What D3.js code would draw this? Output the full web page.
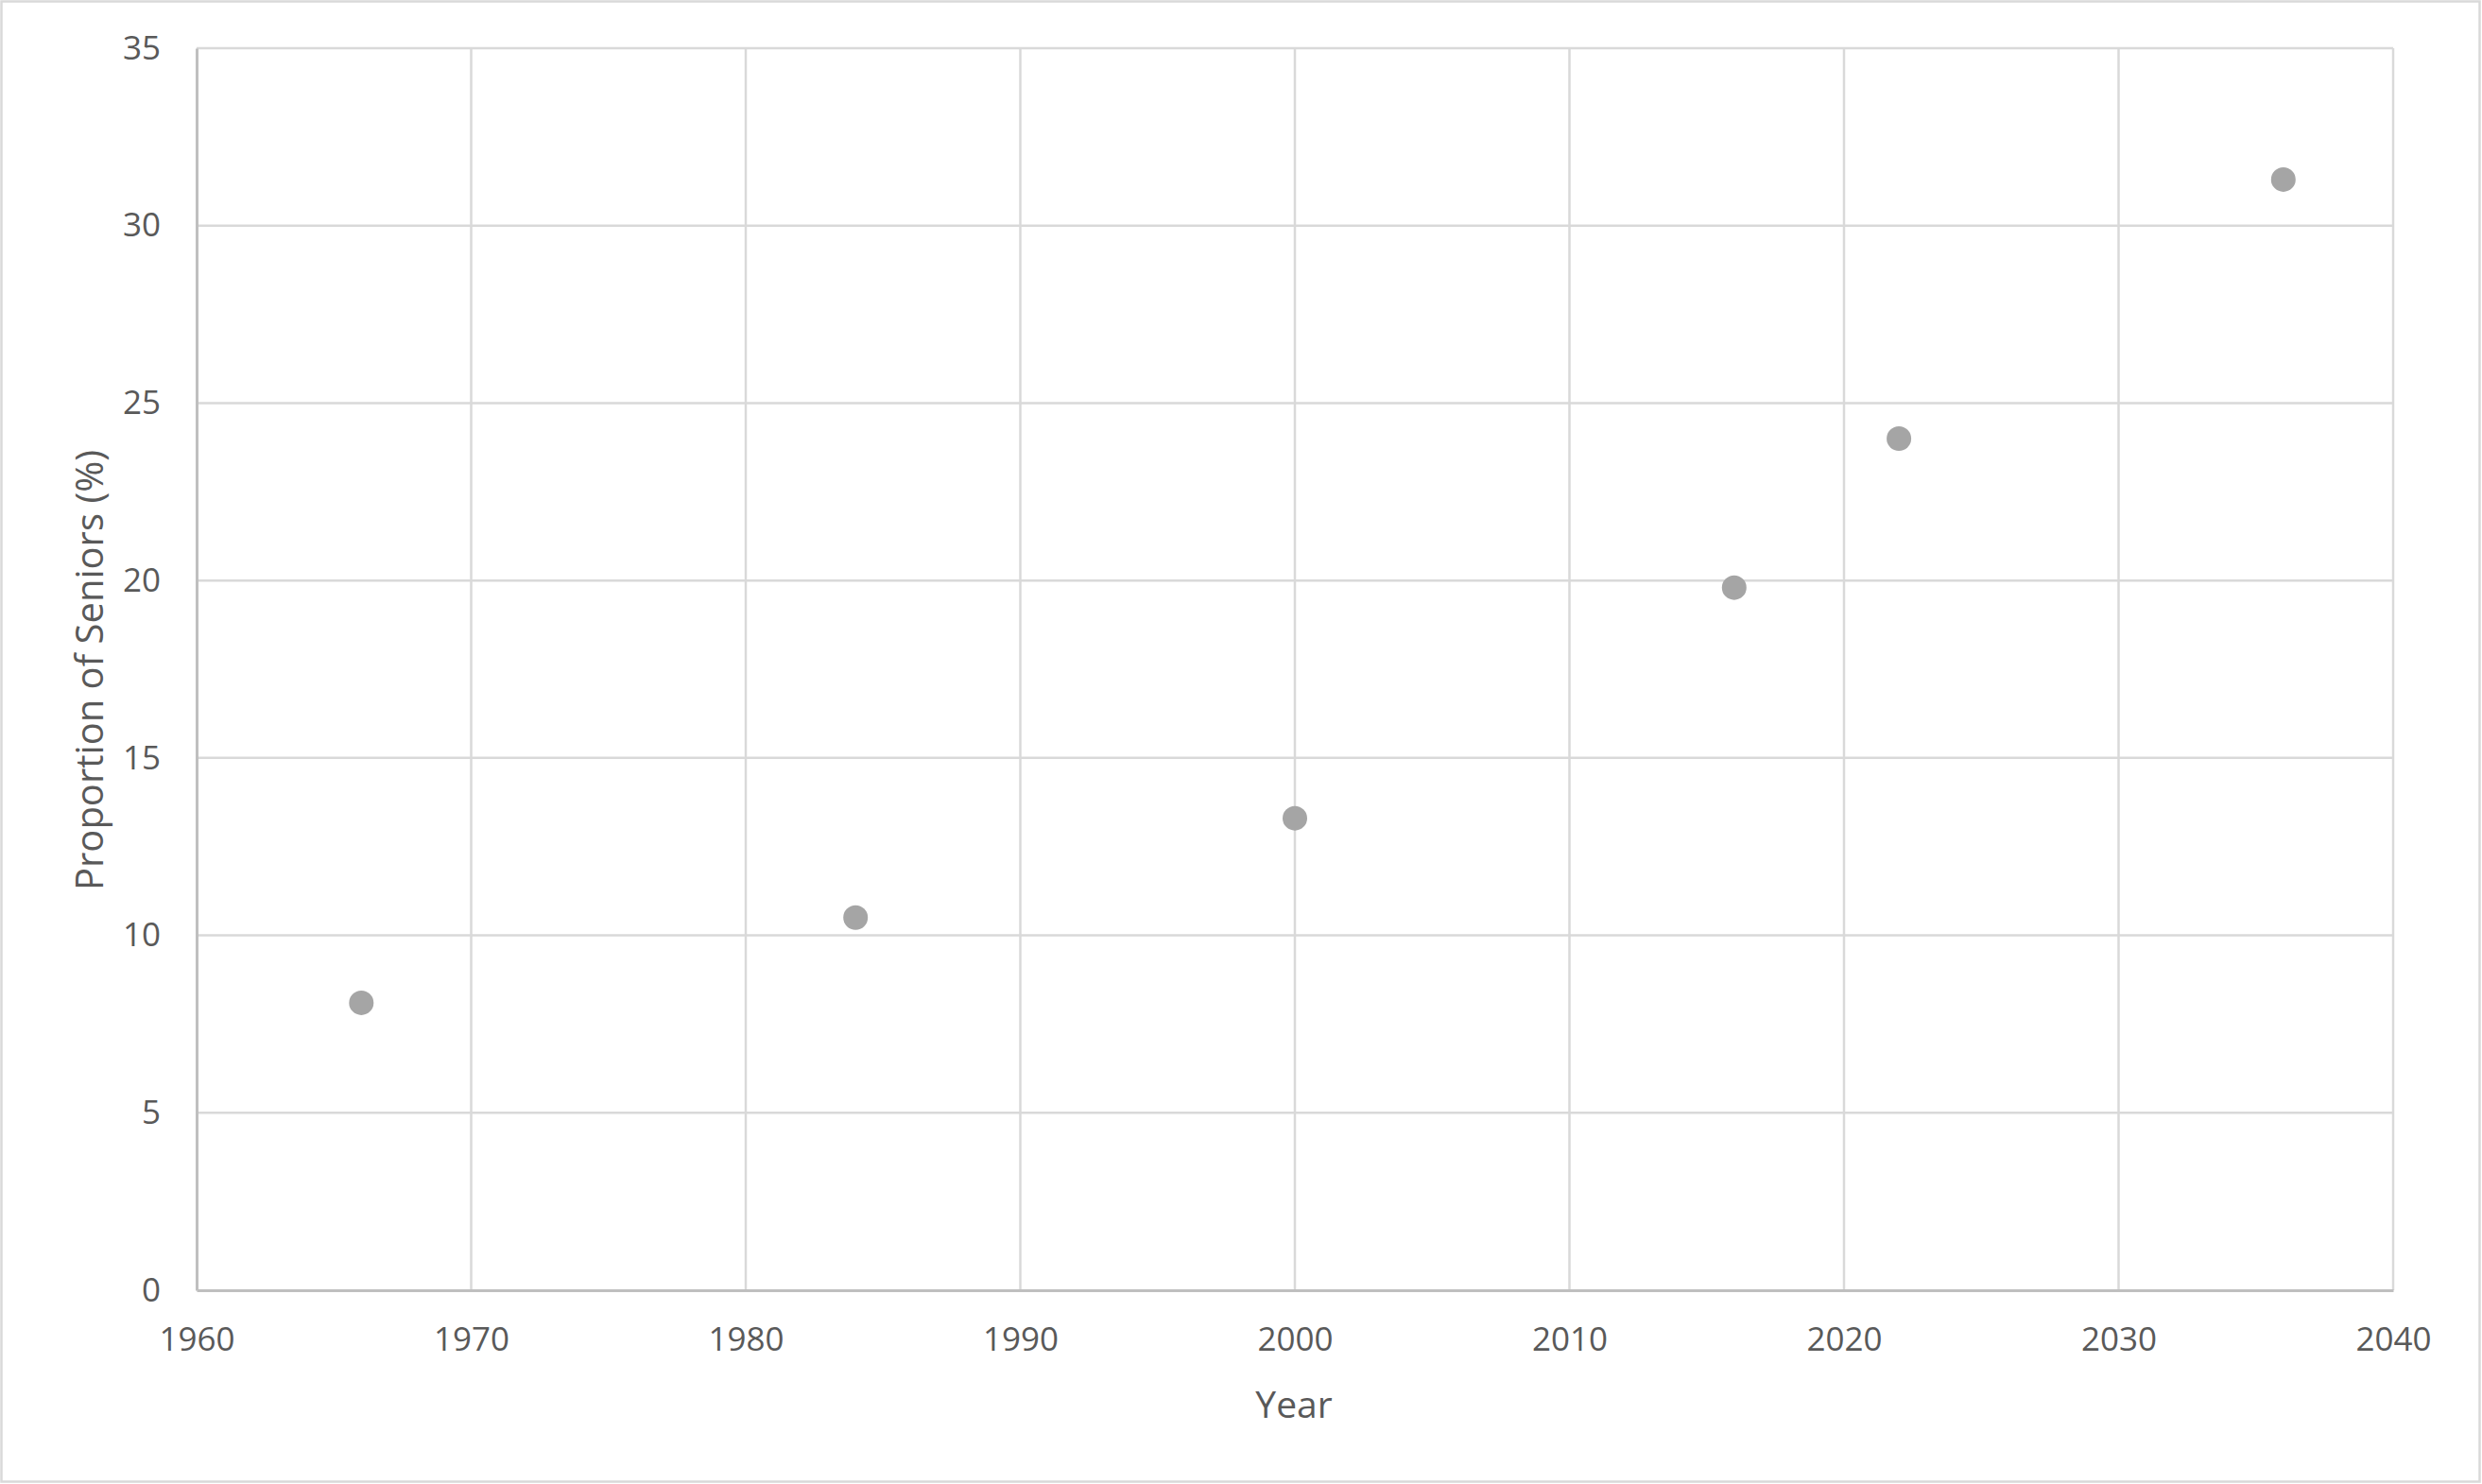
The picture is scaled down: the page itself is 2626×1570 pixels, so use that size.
<!DOCTYPE html>
<html>
<head>
<meta charset="utf-8">
<script src="https://cdn.jsdelivr.net/npm/d3@7"></script>
<style>
  html, body { margin: 0; padding: 0; background: #fff; }
  svg { display: block; }
  text { font-family: "Open Sans", "Noto Sans", sans-serif; fill: #595959; }
</style>
</head>
<body>
<svg id="chart" width="2626" height="1570"></svg>
<script>
const years = [1966, 1984, 2000, 2016, 2022, 2036];
const seniorShare = [8.1, 10.5, 13.3, 19.8, 24.0, 31.3];
const xTicks = [1960, 1970, 1980, 1990, 2000, 2010, 2020, 2030, 2040];
const yTicks = [0, 5, 10, 15, 20, 25, 30, 35];
const xTitle = "Year";
const yTitle = "Proportion of Seniors (%)";

const W = 2626, H = 1570;
const m = { left: 208, right: 2532, top: 51, bottom: 1365 };
const svg = d3.select("#chart");

svg.append("rect").attr("x", 1.5).attr("y", 1.5).attr("width", W - 4).attr("height", H - 4)
  .attr("fill", "#fff").attr("stroke", "#d9d9d9").attr("stroke-width", 2.5);

const x = d3.scaleLinear().domain([1960, 2040]).range([m.left, m.right]);
const y = d3.scaleLinear().domain([0, 35]).range([m.bottom, m.top]);

// gridlines
const grid = svg.append("g");
grid.selectAll("line.v").data(xTicks.slice(1)).join("line")
  .attr("x1", d => x(d)).attr("x2", d => x(d))
  .attr("y1", m.top).attr("y2", m.bottom)
  .attr("stroke", "#d9d9d9").attr("stroke-width", 2.5);
grid.selectAll("line.h").data(yTicks.slice(1)).join("line")
  .attr("x1", m.left).attr("x2", m.right)
  .attr("y1", d => y(d)).attr("y2", d => y(d))
  .attr("stroke", "#d9d9d9").attr("stroke-width", 2.5);

// axes
const xAxis = svg.append("g").attr("transform", `translate(0,${m.bottom})`)
  .call(d3.axisBottom(x).tickValues(xTicks).tickSize(0).tickPadding(39).tickFormat(d3.format("d")));
xAxis.select(".domain").attr("stroke", "#bfbfbf").attr("stroke-width", 3);
xAxis.selectAll("text").style("font-size", "35px").attr("fill", "#595959");

const yAxis = svg.append("g").attr("transform", `translate(${m.left},0)`)
  .call(d3.axisLeft(y).tickValues(yTicks).tickSize(0).tickPadding(38));
yAxis.select(".domain").attr("stroke", "#bfbfbf").attr("stroke-width", 3);
yAxis.selectAll("text").style("font-size", "35px").attr("fill", "#595959");

// titles
svg.append("text").attr("x", 1369).attr("y", 1500).attr("text-anchor", "middle")
  .style("font-size", "39px").text(xTitle);
svg.append("text").attr("transform", "translate(109,709) rotate(-90)").attr("text-anchor", "middle")
  .style("font-size", "40px").text(yTitle);

// points
svg.append("g").selectAll("circle").data(years).join("circle")
  .attr("cx", d => x(d)).attr("cy", (d, i) => y(seniorShare[i]))
  .attr("r", 13).attr("fill", "#a5a5a5");
</script>
</body>
</html>
